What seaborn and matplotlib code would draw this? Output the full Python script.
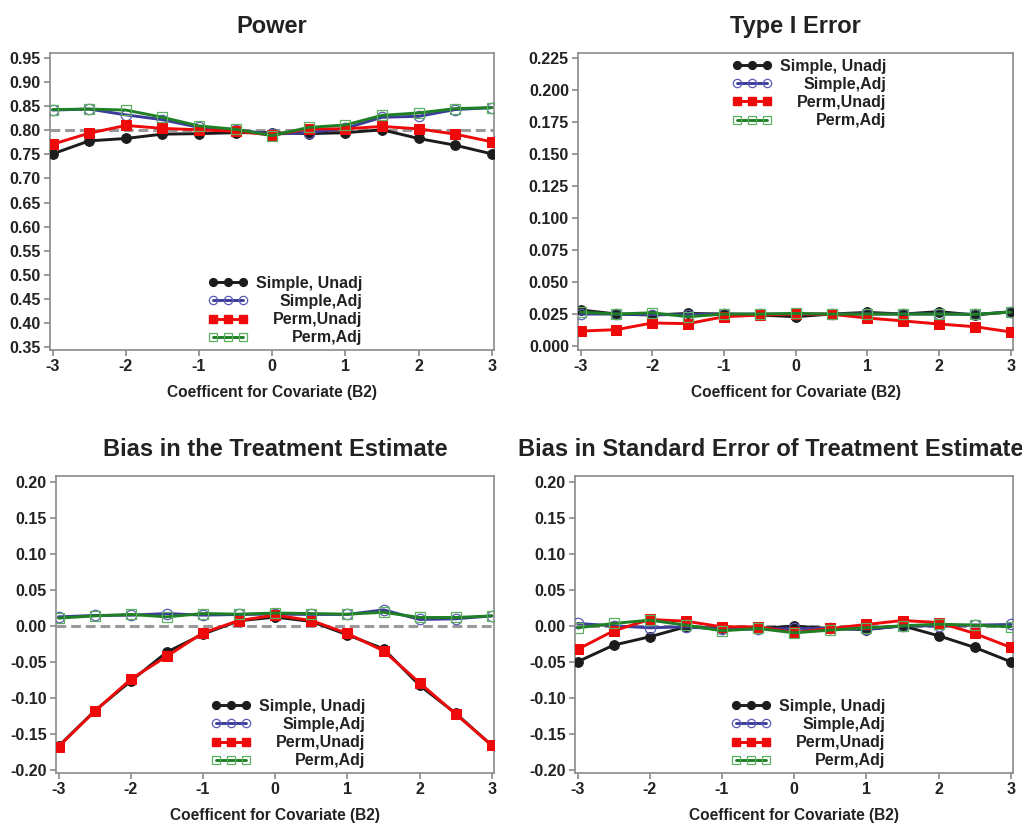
import matplotlib
matplotlib.use("Agg")
import matplotlib.pyplot as plt
import seaborn as sns
import numpy as np
import pandas as pd
from matplotlib.lines import Line2D

# covariate coefficient grid
b2 = [-3, -2.5, -2, -1.5, -1, -0.5, 0, 0.5, 1, 1.5, 2, 2.5, 3]

# Power
power_simple_unadj = [0.751, 0.778, 0.783, 0.792, 0.793, 0.795, 0.795, 0.793, 0.795, 0.801, 0.783, 0.769, 0.751]
power_simple_adj = [0.842, 0.844, 0.832, 0.822, 0.806, 0.801, 0.792, 0.795, 0.804, 0.827, 0.829, 0.843, 0.847]
power_perm_unadj = [0.771, 0.794, 0.810, 0.804, 0.801, 0.798, 0.790, 0.803, 0.803, 0.808, 0.803, 0.792, 0.776]
power_perm_adj = [0.843, 0.844, 0.842, 0.827, 0.809, 0.802, 0.789, 0.806, 0.811, 0.831, 0.836, 0.845, 0.847]

# Type I error
t1_simple_unadj = [0.0282, 0.0250, 0.0242, 0.0255, 0.0250, 0.0242, 0.0229, 0.0250, 0.0263, 0.0250, 0.0269, 0.0242, 0.0269]
t1_simple_adj = [0.0250, 0.0250, 0.0245, 0.0245, 0.0250, 0.0250, 0.0250, 0.0250, 0.0250, 0.0250, 0.0250, 0.0248, 0.0265]
t1_perm_unadj = [0.0117, 0.0128, 0.0180, 0.0175, 0.0229, 0.0242, 0.0250, 0.0248, 0.0219, 0.0196, 0.0172, 0.0151, 0.0110]
t1_perm_adj = [0.0265, 0.0250, 0.0260, 0.0229, 0.0250, 0.0250, 0.0255, 0.0250, 0.0250, 0.0250, 0.0250, 0.0248, 0.0265]

# Bias in the treatment estimate
bias_simple_unadj = [-0.167, -0.118, -0.0765, -0.0363, -0.0113, 0.0072, 0.0123, 0.0063, -0.0123, -0.0317, -0.0826, -0.1214, -0.166]
bias_simple_adj = [0.0127, 0.0146, 0.0150, 0.0173, 0.0150, 0.0160, 0.0164, 0.0160, 0.0160, 0.0224, 0.0090, 0.0100, 0.0140]
bias_perm_unadj = [-0.1676, -0.1186, -0.074, -0.042, -0.0095, 0.0076, 0.015, 0.0076, -0.0104, -0.0345, -0.0789, -0.1223, -0.1658]
bias_perm_adj = [0.0109, 0.0140, 0.0160, 0.0127, 0.0173, 0.0164, 0.0180, 0.0173, 0.0164, 0.0190, 0.0118, 0.0118, 0.0140]

# Bias in standard error of the treatment estimate
se_simple_unadj = [-0.0497, -0.0266, -0.0150, -0.0012, -0.0035, -0.0035, -0.0002, -0.0035, -0.0050, 0.0002, -0.0136, -0.0298, -0.0497]
se_simple_adj = [0.0035, 0.0002, -0.0025, -0.0012, -0.0044, -0.0044, -0.0035, -0.0035, -0.0044, 0.0000, 0.0002, 0.0012, 0.0021]
se_perm_unadj = [-0.0326, -0.0067, 0.0090, 0.0067, -0.0012, -0.0012, -0.0090, -0.0035, 0.0021, 0.0076, 0.0048, -0.0104, -0.0298]
se_perm_adj = [-0.0025, 0.0035, 0.0081, 0.0012, -0.0067, -0.0035, -0.0095, -0.0058, -0.0025, 0.0002, 0.0025, 0.0012, -0.0012]

labels = ["Simple, Unadj", "Simple,Adj", "Perm,Unadj", "Perm,Adj"]
xticks = [-3, -2, -1, 0, 1, 2, 3]

sns.set_theme(style="white")
plt.rcParams["font.family"] = ["Liberation Sans", "DejaVu Sans"]
plt.rcParams["font.weight"] = "bold"
plt.rcParams["text.color"] = "#222222"
plt.rcParams["axes.labelcolor"] = "#222222"
plt.rcParams["xtick.color"] = "#222222"
plt.rcParams["ytick.color"] = "#222222"

# line styles per method
styles = [
    dict(color="#1c1c1c", marker="o", markersize=7, markerfacecolor="#1c1c1c", markeredgecolor="#1c1c1c", linewidth=2.1),
    dict(color="#3c3c9c", marker="o", markersize=7.5, markerfacecolor="none", markeredgecolor="#5c5cb8", markeredgewidth=0.9, linewidth=2.1),
    dict(color="#ee0a0a", marker="s", markersize=6.5, markerfacecolor="#ee0a0a", markeredgecolor="#ee0a0a", linewidth=2.1),
    dict(color="#1f7f24", marker="s", markersize=7.5, markerfacecolor="none", markeredgecolor="#5cb060", markeredgewidth=0.9, linewidth=2.1),
]

W, H = 1022, 823
fig = plt.figure(figsize=(W / 100, H / 100), dpi=100)


def px_axes(left, top, right, bottom):
    return fig.add_axes([left / W, (H - bottom) / H, (right - left) / W, (bottom - top) / H])


panels = [
    dict(box=(50, 53, 494, 350), title="Power", series=[power_simple_unadj, power_simple_adj, power_perm_unadj, power_perm_adj],
         ylim=(0.344, 0.9604), yticks=np.arange(0.35, 0.951, 0.05), fmt="{:.2f}", ref=0.80, leg=(0.530, 0.133), title_x=0.5),
    dict(box=(578, 53, 1013, 350), title="Type I Error", series=[t1_simple_unadj, t1_simple_adj, t1_perm_unadj, t1_perm_adj],
         ylim=(-0.0031, 0.229), yticks=np.arange(0, 0.2251, 0.025), fmt="{:.3f}", ref=None, leg=(0.531, 0.864), title_x=0.5),
    dict(box=(56, 476, 494, 773), title="Bias in the Treatment Estimate", series=[bias_simple_unadj, bias_simple_adj, bias_perm_unadj, bias_perm_adj],
         ylim=(-0.2042, 0.2083), yticks=np.arange(-0.20, 0.201, 0.05), fmt="{:.2f}", ref=0.0, leg=(0.530, 0.133), title_x=0.5),
    dict(box=(575, 476, 1013, 773), title="Bias in Standard Error of Treatment Estimate", series=[se_simple_unadj, se_simple_adj, se_perm_unadj, se_perm_adj],
         ylim=(-0.2042, 0.2083), yticks=np.arange(-0.20, 0.201, 0.05), fmt="{:.2f}", ref=0.0, leg=(0.532, 0.133), title_x=0.447),
]

for p in panels:
    ax = px_axes(*p["box"])
    if p["ref"] is not None:
        ax.axhline(p["ref"], color="#9a9a9a", linestyle="--", linewidth=2.2, dashes=(3.2, 1.6), zorder=1.5)
    handles = []
    for vals, st, lab in zip(p["series"], styles, labels):
        df = pd.DataFrame({"b2": b2, "val": vals})
        sns.lineplot(data=df, x="b2", y="val", ax=ax, zorder=3, **st)
        handles.append(Line2D([], [], **st))

    ax.set_xlim(-3.035, 3.03)
    ax.set_ylim(*p["ylim"])
    ax.set_xticks(xticks)
    ax.set_xticklabels([str(t) for t in xticks])
    ax.set_yticks(p["yticks"])
    ax.set_yticklabels([p["fmt"].format(abs(v) if abs(v) < 1e-9 else v) for v in p["yticks"]])
    ax.tick_params(axis="both", which="major", labelsize=11.5, length=4, width=1.2, color="#8a8a8a", pad=2.5, direction="out", left=True, bottom=True)
    for s in ax.spines.values():
        s.set_color("#8a8a8a")
        s.set_linewidth(1.2)
    ax.set_title(p["title"], fontsize=17, fontweight="bold", pad=14.5, x=p["title_x"])
    ax.set_xlabel("Coefficent for Covariate (B2)", fontsize=11.2, fontweight="bold", labelpad=8)
    ax.set_ylabel("")

    leg = ax.legend(handles, labels, loc="center", bbox_to_anchor=p["leg"], frameon=False, numpoints=3,
                    handlelength=2.5, handletextpad=0.5, labelspacing=0.2, borderpad=0.0, markerscale=0.8,
                    prop=dict(family="Liberation Sans", weight="bold", size=11.5))
    p["legend"] = leg

# right-align legend labels by shifting each text inside its box
fig.canvas.draw()
for p in panels:
    texts = p["legend"].get_texts()
    widths = [t.get_window_extent().width for t in texts]
    w = max(widths)
    for t, wi in zip(texts, widths):
        t.set_position((w - wi, 0))

fig.savefig("out.png", dpi=100)
plt.close(fig)
